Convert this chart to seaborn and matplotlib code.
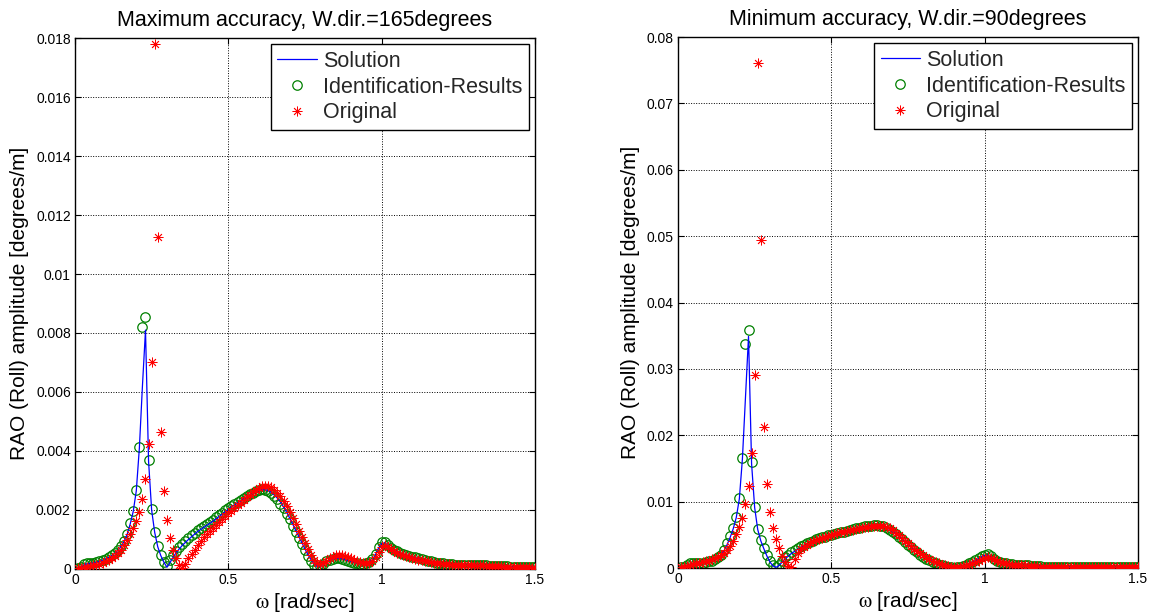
import numpy as np
import pandas as pd
import matplotlib
matplotlib.use("Agg")
import matplotlib.pyplot as plt
from matplotlib.ticker import FixedLocator, FuncFormatter
import seaborn as sns

# Wave frequency grid [rad/s]
omega = np.round(np.arange(1, 151) * 0.01, 2)

# ---- W.dir. = 165 degrees (maximum accuracy) ----
solution_165 = [
    0.00003, 0.00007, 0.00014, 0.00018, 0.00019, 0.00020, 0.00023, 0.00026, 0.00030, 0.00034,
    0.00039, 0.00045, 0.00053, 0.00063, 0.00076, 0.00093, 0.00117, 0.00152, 0.00195, 0.00265,
    0.00410, 0.00620, 0.00810, 0.00365, 0.00200, 0.00124, 0.00075, 0.00045, 0.00023, 0.00006,
    0.00022, 0.00040, 0.00055, 0.00068, 0.00080, 0.00090, 0.00100, 0.00109, 0.00118, 0.00127,
    0.00134, 0.00141, 0.00148, 0.00155, 0.00162, 0.00170, 0.00178, 0.00186, 0.00194, 0.00202,
    0.00210, 0.00217, 0.00224, 0.00231, 0.00238, 0.00244, 0.00250, 0.00256, 0.00262, 0.00266,
    0.00269, 0.00269, 0.00266, 0.00260, 0.00251, 0.00240, 0.00227, 0.00211, 0.00193, 0.00173,
    0.00152, 0.00131, 0.00110, 0.00089, 0.00068, 0.00048, 0.00031, 0.00017, 0.00008, 0.00009,
    0.00016, 0.00024, 0.00030, 0.00034, 0.00036, 0.00036, 0.00035, 0.00032, 0.00029, 0.00026,
    0.00023, 0.00021, 0.00019, 0.00018, 0.00019, 0.00023, 0.00032, 0.00049, 0.00071, 0.00086,
    0.00088, 0.00080, 0.00071, 0.00064, 0.00059, 0.00054, 0.00050, 0.00047, 0.00044, 0.00041,
    0.00038, 0.00035, 0.00032, 0.00029, 0.00027, 0.00025, 0.00023, 0.00021, 0.00019, 0.00018,
    0.00017, 0.00016, 0.00015, 0.00015, 0.00014, 0.00014, 0.00013, 0.00013, 0.00012, 0.00012,
    0.00012, 0.00012, 0.00012, 0.00011, 0.00011, 0.00010, 0.00010, 0.00009, 0.00009, 0.00009,
    0.00008, 0.00008, 0.00008, 0.00007, 0.00007, 0.00007, 0.00006, 0.00006, 0.00006, 0.00006,
]
ident_165 = [
    0.00003, 0.00008, 0.00017, 0.00021, 0.00021, 0.00022, 0.00025, 0.00028, 0.00031, 0.00035,
    0.00040, 0.00046, 0.00054, 0.00065, 0.00078, 0.00095, 0.00119, 0.00155, 0.00198, 0.00267,
    0.00415, 0.00820, 0.00853, 0.00370, 0.00203, 0.00126, 0.00077, 0.00047, 0.00025, 0.00010,
    0.00030, 0.00047, 0.00062, 0.00074, 0.00086, 0.00096, 0.00105, 0.00114, 0.00123, 0.00132,
    0.00139, 0.00146, 0.00153, 0.00160, 0.00167, 0.00175, 0.00183, 0.00191, 0.00199, 0.00207,
    0.00214, 0.00221, 0.00228, 0.00235, 0.00241, 0.00247, 0.00253, 0.00259, 0.00264, 0.00268,
    0.00270, 0.00269, 0.00265, 0.00258, 0.00248, 0.00236, 0.00222, 0.00206, 0.00188, 0.00168,
    0.00147, 0.00126, 0.00105, 0.00084, 0.00063, 0.00044, 0.00027, 0.00014, 0.00007, 0.00010,
    0.00018, 0.00026, 0.00031, 0.00035, 0.00036, 0.00036, 0.00034, 0.00031, 0.00028, 0.00025,
    0.00022, 0.00020, 0.00018, 0.00018, 0.00019, 0.00024, 0.00034, 0.00052, 0.00075, 0.00090,
    0.00092, 0.00082, 0.00072, 0.00065, 0.00060, 0.00055, 0.00051, 0.00048, 0.00045, 0.00042,
    0.00039, 0.00036, 0.00033, 0.00030, 0.00028, 0.00026, 0.00024, 0.00022, 0.00020, 0.00019,
    0.00018, 0.00017, 0.00016, 0.00015, 0.00015, 0.00014, 0.00014, 0.00013, 0.00013, 0.00013,
    0.00012, 0.00013, 0.00015, 0.00012, 0.00011, 0.00011, 0.00010, 0.00010, 0.00009, 0.00009,
    0.00009, 0.00008, 0.00008, 0.00008, 0.00007, 0.00007, 0.00007, 0.00006, 0.00006, 0.00006,
]
original_165 = [
    0.00002, 0.00004, 0.00006, 0.00008, 0.00010, 0.00012, 0.00015, 0.00018, 0.00022, 0.00026,
    0.00031, 0.00037, 0.00045, 0.00054, 0.00066, 0.00080, 0.00098, 0.00118, 0.00140, 0.00162,
    0.00194, 0.00236, 0.00305, 0.00424, 0.00700, 0.01780, 0.01124, 0.00463, 0.00264, 0.00166,
    0.00104, 0.00064, 0.00036, 0.00014, 0.00004, 0.00018, 0.00036, 0.00052, 0.00066, 0.00082,
    0.00095, 0.00107, 0.00118, 0.00129, 0.00139, 0.00149, 0.00159, 0.00169, 0.00179, 0.00189,
    0.00198, 0.00207, 0.00216, 0.00225, 0.00234, 0.00243, 0.00252, 0.00260, 0.00268, 0.00275,
    0.00280, 0.00283, 0.00282, 0.00277, 0.00269, 0.00259, 0.00246, 0.00230, 0.00212, 0.00192,
    0.00172, 0.00151, 0.00130, 0.00109, 0.00088, 0.00068, 0.00049, 0.00032, 0.00020, 0.00016,
    0.00020, 0.00028, 0.00036, 0.00042, 0.00046, 0.00047, 0.00046, 0.00043, 0.00040, 0.00036,
    0.00032, 0.00028, 0.00025, 0.00022, 0.00021, 0.00022, 0.00028, 0.00040, 0.00058, 0.00074,
    0.00081, 0.00076, 0.00067, 0.00060, 0.00055, 0.00051, 0.00047, 0.00044, 0.00041, 0.00038,
    0.00035, 0.00032, 0.00030, 0.00028, 0.00026, 0.00024, 0.00022, 0.00020, 0.00019, 0.00018,
    0.00017, 0.00016, 0.00015, 0.00014, 0.00014, 0.00013, 0.00013, 0.00012, 0.00012, 0.00012,
    0.00011, 0.00012, 0.00014, 0.00011, 0.00010, 0.00010, 0.00010, 0.00009, 0.00009, 0.00008,
    0.00008, 0.00008, 0.00007, 0.00007, 0.00007, 0.00006, 0.00006, 0.00006, 0.00005, 0.00005,
]

# ---- W.dir. = 90 degrees (minimum accuracy) ----
solution_90 = [
    0.0001, 0.0002, 0.0003, 0.0005, 0.0006, 0.0007, 0.0007, 0.0008, 0.0009, 0.0010,
    0.0011, 0.0013, 0.0016, 0.0020, 0.0026, 0.0035, 0.0046, 0.0059, 0.0076, 0.0104,
    0.0164, 0.0255, 0.0349, 0.0157, 0.0091, 0.0058, 0.0041, 0.0029, 0.0018, 0.0009,
    0.0003, 0.0001, 0.0004, 0.0009, 0.0014, 0.0018, 0.0022, 0.0025, 0.0028, 0.0031,
    0.0033, 0.0035, 0.0037, 0.0039, 0.0041, 0.0043, 0.0044, 0.0046, 0.0047, 0.0048,
    0.0050, 0.0051, 0.0053, 0.0054, 0.0055, 0.0057, 0.0058, 0.0059, 0.0060, 0.0061,
    0.0062, 0.0063, 0.0064, 0.0064, 0.0064, 0.0064, 0.0063, 0.0061, 0.0058, 0.0055,
    0.0052, 0.0048, 0.0044, 0.0040, 0.0036, 0.0032, 0.0028, 0.0024, 0.0021, 0.0018,
    0.0015, 0.0012, 0.0010, 0.0008, 0.0006, 0.0004, 0.0003, 0.0002, 0.0001, 0.0001,
    0.0001, 0.0002, 0.0003, 0.0005, 0.0007, 0.0009, 0.0011, 0.0014, 0.0017, 0.0019,
    0.0019, 0.0017, 0.0014, 0.0011, 0.0009, 0.0008, 0.0007, 0.0006, 0.0006, 0.0005,
    0.0005, 0.0004, 0.0004, 0.0004, 0.0003, 0.0003, 0.0003, 0.0003, 0.0002, 0.0002,
    0.0002, 0.0002, 0.0002, 0.0002, 0.0002, 0.0002, 0.0002, 0.0002, 0.0002, 0.0002,
    0.0001, 0.0001, 0.0001, 0.0001, 0.0001, 0.0001, 0.0001, 0.0001, 0.0001, 0.0001,
    0.0001, 0.0001, 0.0001, 0.0001, 0.0001, 0.0001, 0.0001, 0.0001, 0.0001, 0.0001,
]
ident_90 = [
    0.0001, 0.0002, 0.0004, 0.0007, 0.0008, 0.0008, 0.0007, 0.0008, 0.0009, 0.0010,
    0.0011, 0.0013, 0.0016, 0.0020, 0.0027, 0.0037, 0.0048, 0.0061, 0.0077, 0.0106,
    0.0166, 0.0337, 0.0358, 0.0159, 0.0092, 0.0059, 0.0042, 0.0030, 0.0019, 0.0010,
    0.0004, 0.0001, 0.0005, 0.0011, 0.0016, 0.0020, 0.0024, 0.0027, 0.0030, 0.0033,
    0.0035, 0.0037, 0.0039, 0.0041, 0.0043, 0.0045, 0.0046, 0.0047, 0.0049, 0.0050,
    0.0051, 0.0053, 0.0054, 0.0055, 0.0056, 0.0058, 0.0059, 0.0060, 0.0061, 0.0062,
    0.0063, 0.0064, 0.0064, 0.0065, 0.0065, 0.0064, 0.0063, 0.0061, 0.0058, 0.0055,
    0.0051, 0.0047, 0.0043, 0.0039, 0.0035, 0.0031, 0.0027, 0.0024, 0.0020, 0.0017,
    0.0014, 0.0012, 0.0009, 0.0007, 0.0005, 0.0004, 0.0003, 0.0002, 0.0001, 0.0000,
    0.0001, 0.0002, 0.0003, 0.0005, 0.0007, 0.0009, 0.0012, 0.0015, 0.0018, 0.0020,
    0.0021, 0.0018, 0.0014, 0.0011, 0.0009, 0.0008, 0.0007, 0.0006, 0.0006, 0.0005,
    0.0005, 0.0004, 0.0004, 0.0004, 0.0003, 0.0003, 0.0003, 0.0003, 0.0002, 0.0002,
    0.0002, 0.0002, 0.0002, 0.0002, 0.0002, 0.0002, 0.0002, 0.0002, 0.0002, 0.0002,
    0.0001, 0.0001, 0.0001, 0.0001, 0.0001, 0.0001, 0.0001, 0.0001, 0.0001, 0.0001,
    0.0001, 0.0001, 0.0001, 0.0001, 0.0001, 0.0001, 0.0001, 0.0001, 0.0001, 0.0001,
]
original_90 = [
    0.0001, 0.0002, 0.0003, 0.0004, 0.0006, 0.0007, 0.0008, 0.0009, 0.0010, 0.0011,
    0.0013, 0.0015, 0.0017, 0.0020, 0.0023, 0.0027, 0.0033, 0.0041, 0.0051, 0.0062,
    0.0075, 0.0096, 0.0123, 0.0174, 0.0291, 0.0761, 0.0494, 0.0212, 0.0127, 0.0085,
    0.0060, 0.0043, 0.0030, 0.0018, 0.0009, 0.0003, 0.0002, 0.0013, 0.0022, 0.0028,
    0.0032, 0.0035, 0.0038, 0.0040, 0.0042, 0.0044, 0.0045, 0.0047, 0.0048, 0.0050,
    0.0051, 0.0052, 0.0054, 0.0055, 0.0056, 0.0057, 0.0058, 0.0059, 0.0060, 0.0061,
    0.0062, 0.0062, 0.0063, 0.0064, 0.0064, 0.0064, 0.0063, 0.0062, 0.0060, 0.0057,
    0.0053, 0.0049, 0.0045, 0.0041, 0.0037, 0.0033, 0.0029, 0.0025, 0.0022, 0.0019,
    0.0016, 0.0013, 0.0011, 0.0009, 0.0007, 0.0005, 0.0004, 0.0003, 0.0002, 0.0002,
    0.0002, 0.0002, 0.0003, 0.0004, 0.0005, 0.0007, 0.0009, 0.0011, 0.0013, 0.0015,
    0.0016, 0.0015, 0.0013, 0.0011, 0.0009, 0.0008, 0.0007, 0.0006, 0.0005, 0.0005,
    0.0004, 0.0004, 0.0004, 0.0003, 0.0003, 0.0003, 0.0003, 0.0002, 0.0002, 0.0002,
    0.0002, 0.0002, 0.0002, 0.0002, 0.0002, 0.0002, 0.0002, 0.0002, 0.0002, 0.0002,
    0.0001, 0.0001, 0.0001, 0.0001, 0.0001, 0.0001, 0.0001, 0.0001, 0.0001, 0.0001,
    0.0001, 0.0001, 0.0001, 0.0001, 0.0001, 0.0001, 0.0001, 0.0001, 0.0001, 0.0001,
]

titles = ["Maximum accuracy, W.dir.=165degrees", "Minimum accuracy, W.dir.=90degrees"]
series_names = ["Solution", "Identification-Results", "Original"]
y_ticks_165 = [0, 0.002, 0.004, 0.006, 0.008, 0.01, 0.012, 0.014, 0.016, 0.018]
y_ticks_90 = [0, 0.01, 0.02, 0.03, 0.04, 0.05, 0.06, 0.07, 0.08]
x_ticks = [0, 0.5, 1, 1.5]

sns.set_theme(style="white")
plt.rcParams["font.family"] = ["Liberation Sans", "DejaVu Sans"]
plt.rcParams["mathtext.fontset"] = "stix"

fig = plt.figure(figsize=(11.55, 6.14), dpi=100)
fig.patch.set_facecolor("white")
ax_l = fig.add_axes([0.0649, 0.0733, 0.3983, 0.8648])
ax_r = fig.add_axes([0.5870, 0.0749, 0.3983, 0.8648])

GREEN = (0.0, 0.5, 0.0)
asterisk = (8, 2, 0)

panels = [
    (ax_l, solution_165, ident_165, original_165, y_ticks_165, titles[0]),
    (ax_r, solution_90, ident_90, original_90, y_ticks_90, titles[1]),
]

for ax, sol, ident, orig, yt, title in panels:
    df = pd.DataFrame({"omega": omega, "solution": sol, "ident": ident, "original": orig})
    sns.lineplot(data=df, x="omega", y="solution", ax=ax, color="blue", lw=0.9,
                 estimator=None, errorbar=None, label=series_names[0], zorder=3)
    sns.lineplot(data=df, x="omega", y="ident", ax=ax, linestyle="", marker="o",
                 markersize=6.8, markerfacecolor="none", markeredgecolor=GREEN,
                 markeredgewidth=0.9, color=GREEN, estimator=None, errorbar=None,
                 label=series_names[1], zorder=2)
    sns.lineplot(data=df, x="omega", y="original", ax=ax, linestyle="", marker=asterisk,
                 markersize=7, markeredgecolor="red", markeredgewidth=0.6,
                 color="red", estimator=None, errorbar=None,
                 label=series_names[2], zorder=4)

    ax.set_xlim(0, 1.5)
    ax.set_ylim(yt[0], yt[-1])
    ax.xaxis.set_major_locator(FixedLocator(x_ticks))
    ax.yaxis.set_major_locator(FixedLocator(yt))
    ax.xaxis.set_major_formatter(FuncFormatter(lambda v, p: f"{v:g}"))
    ax.yaxis.set_major_formatter(FuncFormatter(lambda v, p: f"{v:g}"))
    ax.tick_params(direction="in", length=4, width=0.8, top=True, right=True,
                   bottom=True, left=True, labelsize=10, colors="black", pad=3)
    ax.grid(True, color="black", linestyle=(0, (1, 1.6)), linewidth=0.7)
    for sp in ax.spines.values():
        sp.set_visible(True)
        sp.set_color("black")
        sp.set_linewidth(1.0)
    ax.set_facecolor("white")
    ax.set_title(title, fontsize=15.5, pad=9, color="black")
    ax.set_xlabel(r"$\mathrm{\omega}$ [rad/sec]", fontsize=15, labelpad=3, color="black")
    ax.set_ylabel("RAO (Roll) amplitude [degrees/m]", fontsize=15, labelpad=5, color="black")
    leg = ax.legend(loc="upper right", fontsize=15.5, frameon=True, fancybox=False,
                    framealpha=1, edgecolor="black", handlelength=1.85, handletextpad=0.25,
                    labelspacing=0.22, borderpad=0.3, borderaxespad=0.3, numpoints=1)
    leg.get_frame().set_linewidth(1.0)

fig.savefig("out.png", dpi=100, facecolor="white")
